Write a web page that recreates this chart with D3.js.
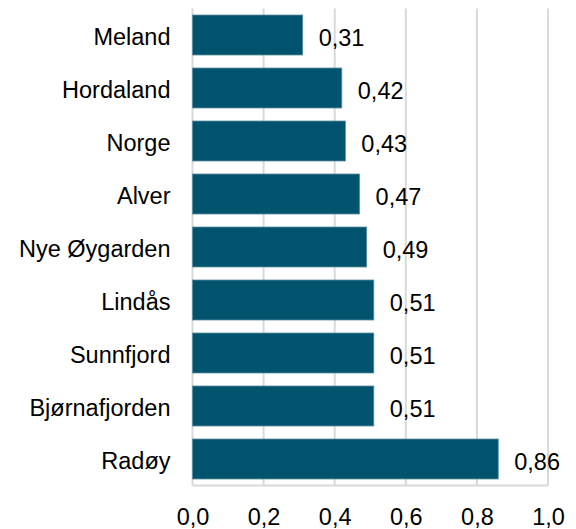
<!DOCTYPE html>
<html>
<head>
<meta charset="utf-8">
<script src="https://cdn.jsdelivr.net/npm/d3@7"></script>
<style>
  body { margin: 0; background: #fff; }
  text { font-family: "Liberation Sans", Arial, sans-serif; fill: #000; }
</style>
</head>
<body>
<div class="canvas"></div>
<script>
// data
const categories = ['Meland', 'Hordaland', 'Norge', 'Alver', 'Nye Øygarden', 'Lindås', 'Sunnfjord', 'Bjørnafjorden', 'Radøy']
const values = [0.31, 0.42, 0.43, 0.47, 0.49, 0.51, 0.51, 0.51, 0.86]
const xTicks = [0, 0.2, 0.4, 0.6, 0.8, 1.0]

const width = 576
const height = 529
const margin = {top: 8.5, right: 28, bottom: 43.5, left: 192.5}
const fontSize = 23.5

const svg = d3.select('.canvas').append('svg')
    .attr('width', width)
    .attr('height', height)

const graph = svg.append('g')
    .attr('transform', `translate(${margin.left}, ${margin.top})`)

const graphWidth = width - margin.left - margin.right
const graphHeight = height - margin.top - margin.bottom

const x = d3.scaleLinear().domain([0, 1]).range([0, graphWidth])
const y = d3.scaleBand()
    .domain(categories)
    .range([0, graphHeight])
    .paddingInner(13 / 53)
    .paddingOuter(6.5 / 53)

const fmt = d => d3.format('.1f')(d).replace('.', ',')
const fmt2 = d => d3.format('.2f')(d).replace('.', ',')

// gridlines
graph.selectAll('line.grid')
    .data(xTicks)
    .enter().append('line')
    .attr('class', 'grid')
    .attr('x1', d => x(d)).attr('x2', d => x(d))
    .attr('y1', 0).attr('y2', graphHeight)
    .attr('stroke', '#d9d9d9')
    .attr('stroke-width', 2)

// bottom line
graph.append('line')
    .attr('x1', 0).attr('x2', graphWidth)
    .attr('y1', graphHeight).attr('y2', graphHeight)
    .attr('stroke', '#d9d9d9')
    .attr('stroke-width', 2)

// bars
graph.selectAll('rect')
    .data(values)
    .enter().append('rect')
    .attr('x', x(0))
    .attr('y', (d, i) => y(categories[i]))
    .attr('width', d => x(d))
    .attr('height', y.bandwidth())
    .attr('fill', '#02546e')
    .attr('stroke', '#5b8ea0')
    .attr('stroke-width', 0.8)

// value labels
graph.selectAll('text.val')
    .data(values)
    .enter().append('text')
    .attr('class', 'val')
    .attr('x', d => x(d) + 16)
    .attr('y', (d, i) => y(categories[i]) + y.bandwidth() / 2 + 10.5)
    .attr('font-size', fontSize)
    .text(d => fmt2(d))

// category labels
const yAxis = d3.axisLeft(y).tickSize(0).tickPadding(22)
graph.append('g')
    .call(yAxis)
    .call(g => g.select('.domain').remove())
    .selectAll('text')
    .attr('font-size', fontSize)
    .attr('dy', '0.42em')
    .style('font-family', '"Liberation Sans", Arial, sans-serif')
    .attr('fill', '#000')

// x axis
const xAxis = d3.axisBottom(x).tickValues(xTicks).tickSize(0).tickPadding(23).tickFormat(fmt)
graph.append('g')
    .attr('transform', `translate(0, ${graphHeight})`)
    .call(xAxis)
    .call(g => g.select('.domain').remove())
    .selectAll('text')
    .attr('font-size', fontSize)
    .style('font-family', '"Liberation Sans", Arial, sans-serif')
    .attr('fill', '#000')
</script>
</body>
</html>
